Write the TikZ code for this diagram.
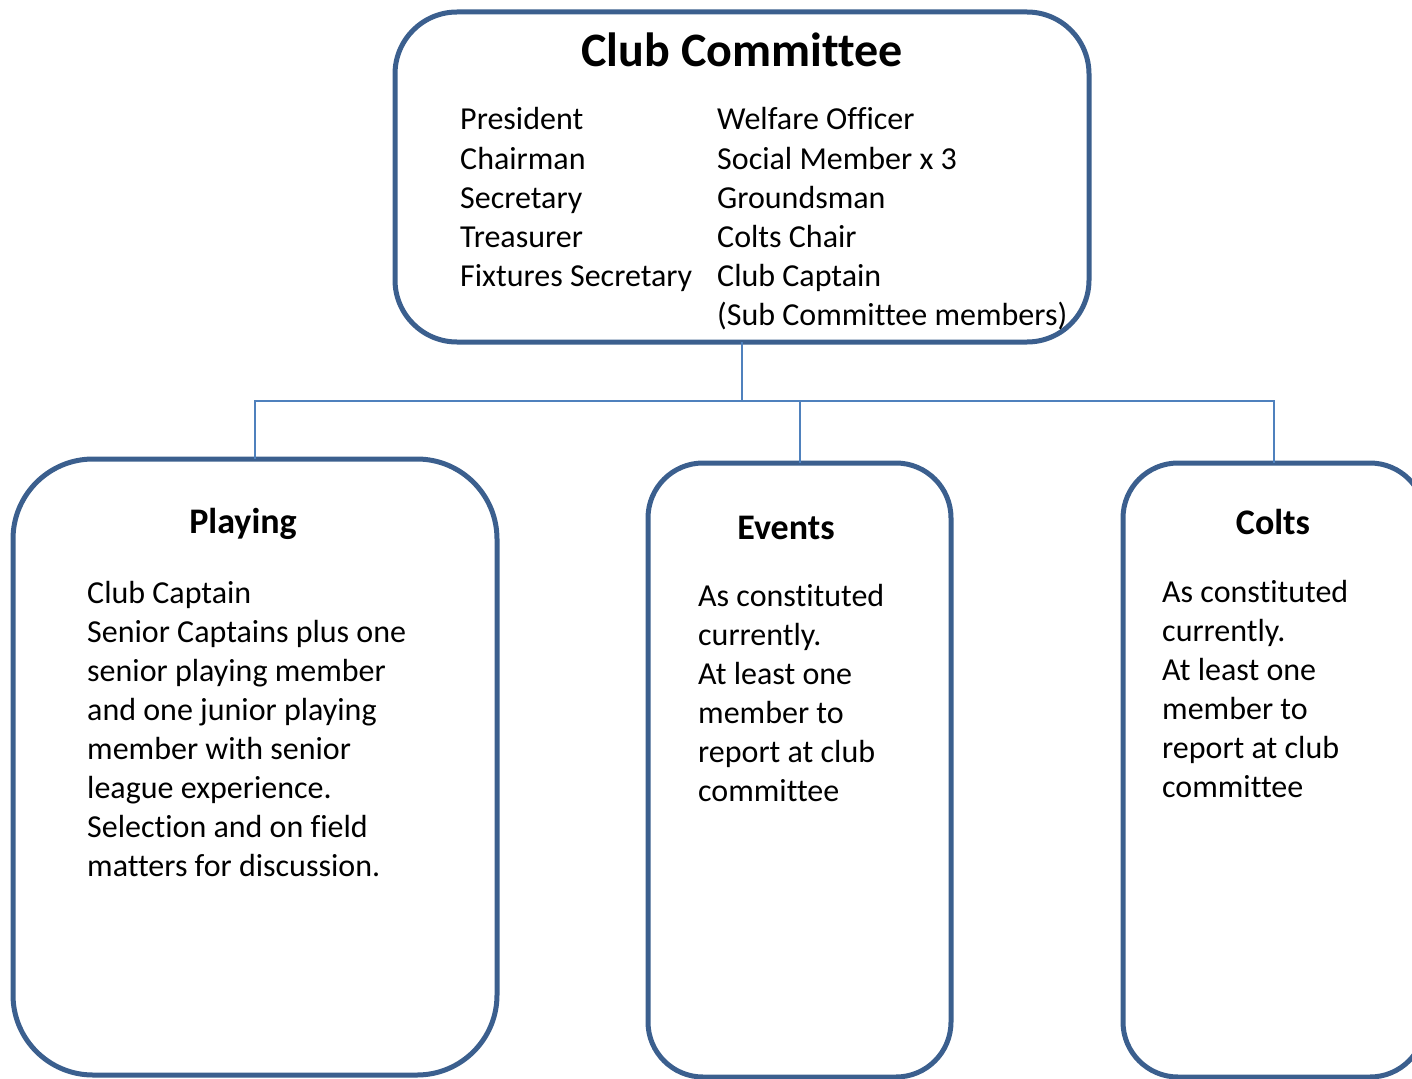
\documentclass[tikz,border=0pt]{standalone}
\usepackage{fontspec}
\setmainfont{Carlito}[Ligatures=NoCommon]
\definecolor{boxline}{HTML}{3B5F8E}
\definecolor{connline}{HTML}{4F81BD}
\tikzset{
  orgbox/.style={draw=boxline, line width=5pt, fill=none, rectangle, outer sep=0pt, inner sep=0pt},
  conn/.style={draw=connline, line width=2pt},
  heading/.style={anchor=base, inner sep=0pt, font=\fontsize{36}{44}\selectfont\bfseries},
  bodytxt/.style={anchor=base west, inner sep=0pt, font=\fontsize{32}{39.1}\selectfont}
}
\begin{document}
\begin{tikzpicture}[x=1pt, y=-1pt]
\useasboundingbox (0,0) rectangle (1412,1078);
\clip (0,0) rectangle (1412,1078);
% boxes
\node[orgbox, rounded corners=62pt, minimum width=694, minimum height=330] (top) at (742,177) {};
\node[orgbox, rounded corners=80pt, minimum width=484, minimum height=616] (play) at (255,767) {};
\node[orgbox, rounded corners=55pt, minimum width=303, minimum height=614] (ev) at (799.5,770) {};
\node[orgbox, rounded corners=55pt, minimum width=302, minimum height=614] (colts) at (1274,770) {};
% connectors
\coordinate (j) at (742,401);
\draw[conn] (top.south) -- (j) -| (play.north);
\draw[conn] (j) -| (ev.north);
\draw[conn] (j) -| (colts.north);
% top box text
\node[heading, font=\fontsize{48}{56}\selectfont\bfseries] (ttl) at (742,67) {Club Committee};
\node[bodytxt] (lcol) at (460,130) {\begin{tabular}[t]{@{}l@{}}President\\Chairman\\Secretary\\Treasurer\\Fixtures Secretary\end{tabular}};
\node[bodytxt] (rcol) at (717,130) {\begin{tabular}[t]{@{}l@{}}Welfare Officer\\Social Member x 3\\Groundsman\\Colts Chair\\Club Captain\\(Sub Committee members)\end{tabular}};
% playing
\node[heading] (ptl) at (243,533) {Playing};
\node[bodytxt] (ptx) at (87,603) {\begin{tabular}[t]{@{}l@{}}Club Captain\\Senior Captains plus one\\senior playing member\\and one junior playing\\member with senior\\league experience.\\Selection and on field\\matters for discussion.\end{tabular}};
% events
\node[heading] (etl) at (786,539) {Events};
\node[bodytxt] (etx) at (698,606) {\begin{tabular}[t]{@{}l@{}}As constituted\\currently.\\At least one\\member to\\report at club\\committee\end{tabular}};
% colts
\node[heading] (ctl) at (1273,534) {Colts};
\node[bodytxt] (ctx) at (1162,602) {\begin{tabular}[t]{@{}l@{}}As constituted\\currently.\\At least one\\member to\\report at club\\committee\end{tabular}};
\end{tikzpicture}
\end{document}
